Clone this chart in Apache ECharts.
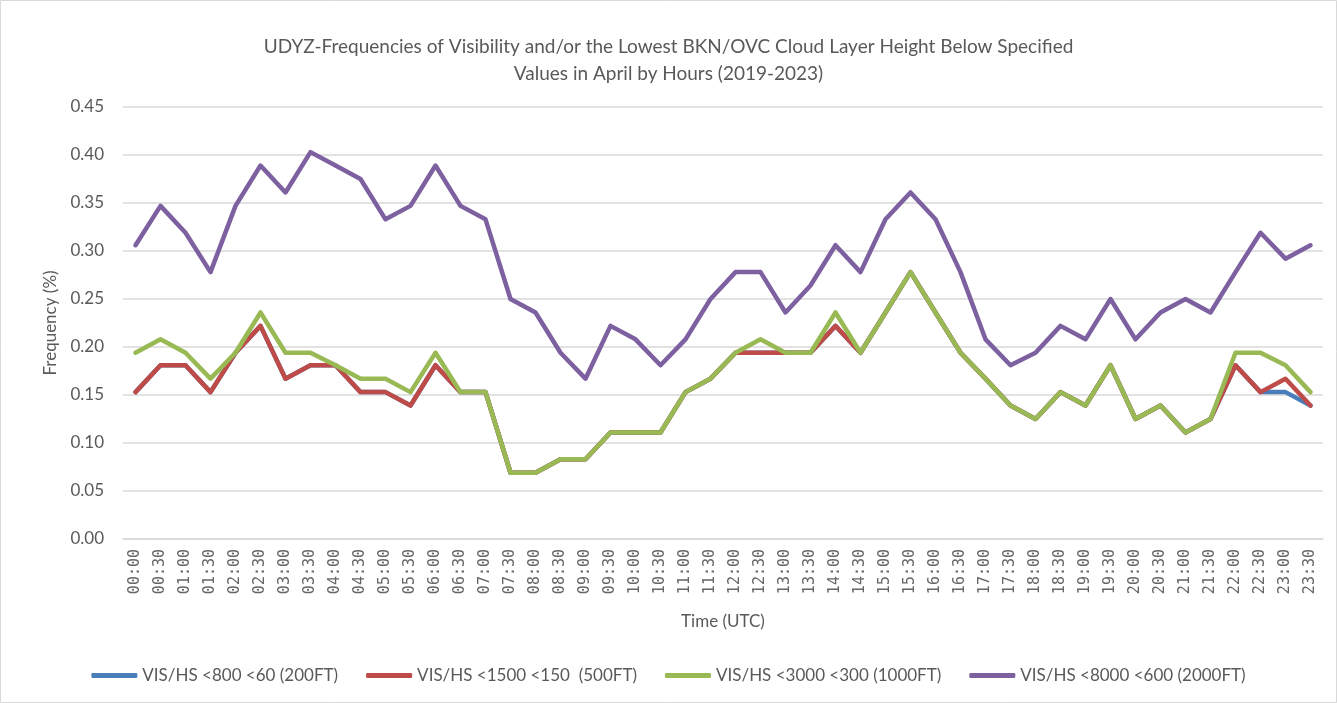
<!DOCTYPE html>
<html><head><meta charset="utf-8">
<script src="https://cdn.jsdelivr.net/npm/echarts@6/dist/echarts.min.js"></script>
<style>html,body{margin:0;padding:0;background:#fff}#c{width:1337px;height:703px}</style>
</head><body><div id="c"></div>
<script>
const categories = ['00:00','00:30','01:00','01:30','02:00','02:30','03:00','03:30','04:00','04:30','05:00','05:30','06:00','06:30','07:00','07:30','08:00','08:30','09:00','09:30','10:00','10:30','11:00','11:30','12:00','12:30','13:00','13:30','14:00','14:30','15:00','15:30','16:00','16:30','17:00','17:30','18:00','18:30','19:00','19:30','20:00','20:30','21:00','21:30','22:00','22:30','23:00','23:30'];
const vis800 = [0.153,0.181,0.181,0.153,0.194,0.222,0.167,0.181,0.181,0.153,0.153,0.139,0.181,0.153,0.153,0.069,0.069,0.083,0.083,0.111,0.111,0.111,0.153,0.167,0.194,0.194,0.194,0.194,0.222,0.194,0.236,0.278,0.236,0.194,0.167,0.139,0.125,0.153,0.139,0.181,0.125,0.139,0.111,0.125,0.181,0.153,0.153,0.139];
const vis1500 = [0.153,0.181,0.181,0.153,0.194,0.222,0.167,0.181,0.181,0.153,0.153,0.139,0.181,0.153,0.153,0.069,0.069,0.083,0.083,0.111,0.111,0.111,0.153,0.167,0.194,0.194,0.194,0.194,0.222,0.194,0.236,0.278,0.236,0.194,0.167,0.139,0.125,0.153,0.139,0.181,0.125,0.139,0.111,0.125,0.181,0.153,0.167,0.139];
const vis3000 = [0.194,0.208,0.194,0.167,0.194,0.236,0.194,0.194,0.181,0.167,0.167,0.153,0.194,0.153,0.153,0.069,0.069,0.083,0.083,0.111,0.111,0.111,0.153,0.167,0.194,0.208,0.194,0.194,0.236,0.194,0.236,0.278,0.236,0.194,0.167,0.139,0.125,0.153,0.139,0.181,0.125,0.139,0.111,0.125,0.194,0.194,0.181,0.153];
const vis8000 = [0.306,0.347,0.319,0.278,0.347,0.389,0.361,0.403,0.389,0.375,0.333,0.347,0.389,0.347,0.333,0.250,0.236,0.194,0.167,0.222,0.208,0.181,0.208,0.250,0.278,0.278,0.236,0.264,0.306,0.278,0.333,0.361,0.333,0.278,0.208,0.181,0.194,0.222,0.208,0.250,0.208,0.236,0.250,0.236,0.278,0.319,0.292,0.306];
const seriesNames = ['VIS/HS <800 <60 (200FT)','VIS/HS <1500 <150  (500FT)','VIS/HS <3000 <300 (1000FT)','VIS/HS <8000 <600 (2000FT)'];
const colors = ['#4a7ebb','#be4b48','#98b954','#7d60a0'];
const yTicks = {min:0, max:0.45, interval:0.05};

const font = 'Lato, "Open Sans", sans-serif';
const textColor = '#595959';
const data = [vis800, vis1500, vis3000, vis8000];
const chart = echarts.init(document.getElementById('c'), null, {renderer:'canvas'});
chart.setOption({
  backgroundColor:'#fff',
  animation:false,
  title:{
    text:'UDYZ-Frequencies of Visibility and/or the Lowest BKN/OVC Cloud Layer Height Below Specified\nValues in April by Hours (2019-2023)',
    left:'center', top:28,
    textStyle:{fontFamily:font, fontSize:19, fontWeight:'normal', color:textColor, lineHeight:27}
  },
  legend:{
    bottom:14, left:'center', itemWidth:46, itemHeight:5, itemGap:28,
    icon:'roundRect',
    textStyle:{fontFamily:font, fontSize:17, color:textColor},
    data:seriesNames
  },
  grid:{left:123, top:107, width:1200, height:432, containLabel:false},
  xAxis:{
    type:'category', data:categories, boundaryGap:true,
    name:'Time (UTC)', nameLocation:'middle', nameGap:74,
    nameTextStyle:{fontFamily:font, fontSize:17, color:textColor},
    axisLine:{show:true, lineStyle:{color:'#d9d9d9', width:1.5}},
    axisTick:{show:false},
    axisLabel:{rotate:90, interval:0, margin:10, fontFamily:'"DejaVu Sans Mono", monospace', fontSize:15, color:'#666666'}
  },
  yAxis:{
    type:'value', min:yTicks.min, max:yTicks.max, interval:yTicks.interval,
    name:'Frequency (%)', nameLocation:'middle', nameGap:64, nameRotate:90,
    nameTextStyle:{fontFamily:font, fontSize:17, color:textColor},
    axisLine:{show:false}, axisTick:{show:false},
    axisLabel:{formatter:v=>v.toFixed(2), fontFamily:font, fontSize:17, color:textColor, margin:19},
    splitLine:{lineStyle:{color:'#d9d9d9', width:1.5}}
  },
  series: seriesNames.map((n,i)=>({
    name:n, type:'line', data:data[i], showSymbol:false, symbol:'none',
    lineStyle:{color:colors[i], width:4.5, join:'round', cap:'round'}, itemStyle:{color:colors[i]}, z:2+i
  })),
  graphic:[{type:'rect', shape:{x:0.5,y:0.5,width:1336,height:702}, style:{fill:'none', stroke:'#d9d9d9', lineWidth:1}, silent:true}]
});
</script></body></html>
